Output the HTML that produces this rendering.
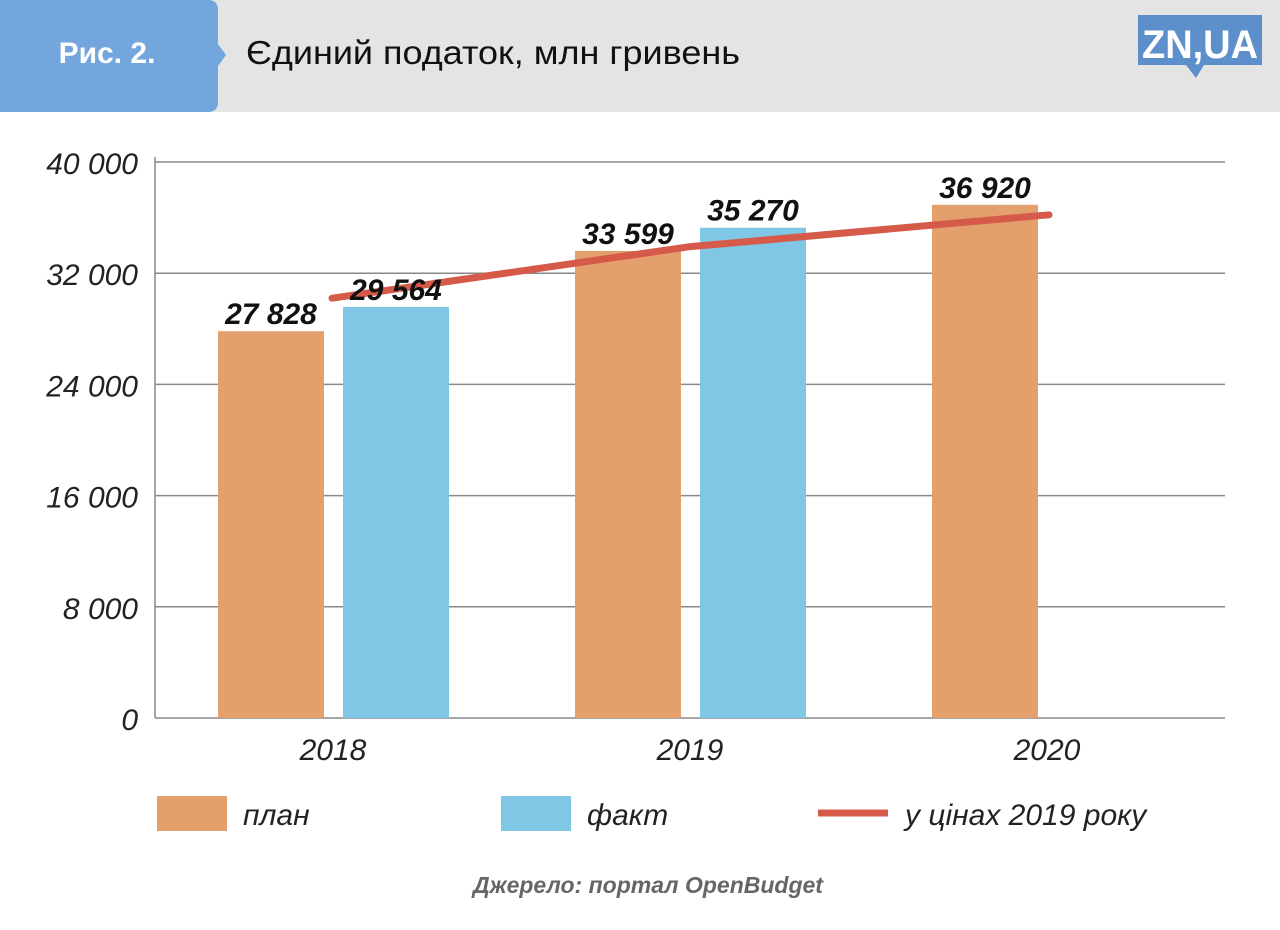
<!DOCTYPE html>
<html><head><meta charset="utf-8"><style>
body{margin:0;width:1280px;height:925px;background:#fff;overflow:hidden;font-family:"Liberation Sans",sans-serif}
</style></head><body>
<svg width="1280" height="925">
<rect x="0" y="0" width="1280" height="112" fill="#e4e4e4"/>
<path d="M0 0 H208 Q218 0 218 10 V44 L226 55 L218 66 V102 Q218 112 208 112 H0 Z" fill="#72a6dc"/>
<text x="107" y="63" text-anchor="middle" font-size="30" font-weight="bold" fill="#fff">Рис. 2.</text>
<text x="246" y="64" font-size="33" fill="#111" textLength="494" lengthAdjust="spacingAndGlyphs">Єдиний податок, млн гривень</text>
<g>
<rect x="1138" y="15" width="124" height="50" fill="#5d8fca"/>
<path d="M1186 65 L1196 78 L1204 65 Z" fill="#5d8fca"/>
<text x="1200" y="58" text-anchor="middle" font-size="40" font-weight="bold" fill="#fff" textLength="116" lengthAdjust="spacingAndGlyphs">ZN,UA</text>
</g>
<g id="grid"></g><g id="bars"></g><g id="line"></g><g id="labels"></g>
<line x1="155" y1="157" x2="155" y2="718" stroke="#888" stroke-width="1.5"/>
<g font-size="30" font-style="italic" fill="#222">
<rect x="157" y="796" width="70" height="35" fill="#e3a06d"/>
<text x="243" y="825">план</text>
<rect x="501" y="796" width="70" height="35" fill="#80c6e5"/>
<text x="587" y="825">факт</text>
<line x1="818" y1="813" x2="888" y2="813" stroke="#d55a4a" stroke-width="7"/>
<text x="905" y="825">у цінах 2019 року</text>
</g>
<text x="648" y="893" text-anchor="middle" font-size="23" font-weight="bold" font-style="italic" fill="#666">Джерело: портал OpenBudget</text>
</svg>
<script>
const years=["2018","2019","2020"];
const plan=[27828,33599,36920];
const fact=[29564,35270,null];
const real=[30200,33900,36200];
const ticks=[0,8000,16000,24000,32000,40000];
const tickLabels=["0","8 000","16 000","24 000","32 000","40 000"];
const NS="http://www.w3.org/2000/svg";
const y=v=>718-v*556/40000;
const gx=i=>333+i*357;
function mk(t,a,p){const e=document.createElementNS(NS,t);for(const k in a)e.setAttribute(k,a[k]);document.getElementById(p).appendChild(e);return e;}
const fmt=v=>{const s=String(v);return s.slice(0,s.length-3)+" "+s.slice(-3);};
ticks.forEach((t,i)=>{
 if(t>0){const l=mk('line',{x1:155,x2:1225,y1:y(t),y2:y(t),stroke:'#888','stroke-width':1.5},'grid');
 
 }
 const tx=mk('text',{x:138,y:y(t)+12,'text-anchor':'end','font-size':30,'font-style':'italic',fill:'#222'},'grid');
 tx.textContent=tickLabels[i];
 
 
});
mk('line',{x1:155,x2:1225,y1:718,y2:718,stroke:'#888','stroke-width':1.5},'grid');
years.forEach((yr,i)=>{
 const t=mk('text',{x:gx(i),y:760,'text-anchor':'middle','font-size':30,'font-style':'italic',fill:'#222'},'grid');
 t.textContent=yr;
 
 
 [[plan[i],-115,'#e3a06d','bar-plan'],[fact[i],10,'#80c6e5','bar-fact']].forEach(([v,off,c,n])=>{
  if(v==null)return;
  const b=mk('rect',{x:gx(i)+off,y:y(v),width:106,height:718-y(v),fill:c},'bars');
  
  
  const l=mk('text',{x:gx(i)+off+53,y:y(v)-7,'text-anchor':'middle','font-size':30,'font-weight':'bold','font-style':'italic',fill:'#111'},'labels');
  l.textContent=fmt(v);
  
  
 });
});
const p=mk('polyline',{points:real.map((v,i)=>(gx(i)-1+(i==2?3:0))+','+y(v)).join(' '),fill:'none',stroke:'#d55a4a','stroke-width':7,'stroke-linecap':'round','stroke-linejoin':'round'},'line');


</script>
</body></html>
